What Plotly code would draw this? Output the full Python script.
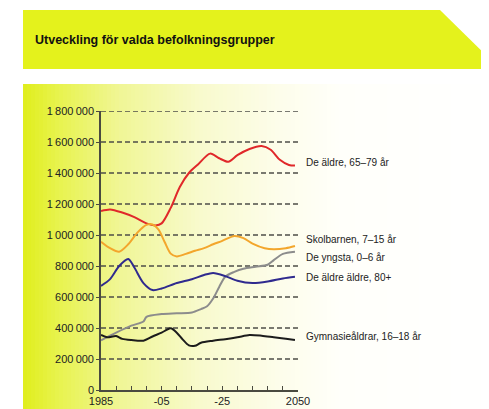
import plotly.graph_objects as go

# ---------------- data ----------------
title_text = "Utveckling för valda befolkningsgrupper"

years_aldre = [1985, 1988, 1992, 1996, 2000, 2003, 2005, 2008, 2011, 2014, 2017, 2021, 2024, 2027, 2030, 2034, 2038, 2041, 2044, 2047, 2049]
vals_aldre = [1155000, 1165000, 1145000, 1115000, 1075000, 1062000, 1075000, 1175000, 1310000, 1400000, 1455000, 1525000, 1495000, 1473000, 1515000, 1555000, 1574000, 1550000, 1485000, 1452000, 1448000]

years_skol = [1985, 1988, 1991, 1994, 1997, 2000, 2002, 2004, 2006, 2008, 2010, 2013, 2016, 2019, 2022, 2025, 2029, 2032, 2035, 2039, 2042, 2046, 2049]
vals_skol = [957000, 915000, 892000, 940000, 1015000, 1065000, 1068000, 1035000, 955000, 880000, 862000, 878000, 898000, 915000, 940000, 962000, 994000, 980000, 945000, 915000, 908000, 915000, 929000]

years_yngsta = [1985, 1990, 1995, 1999, 2000, 2005, 2010, 2015, 2018, 2020, 2022, 2024, 2026, 2029, 2032, 2036, 2040, 2042, 2045, 2049]
vals_yngsta = [320000, 370000, 415000, 442000, 472000, 490000, 495000, 500000, 522000, 540000, 590000, 665000, 731000, 762000, 782000, 795000, 808000, 838000, 878000, 892000]

years_aldreald = [1985, 1988, 1991, 1994, 1996, 1999, 2002, 2005, 2010, 2015, 2019, 2022, 2026, 2030, 2035, 2040, 2045, 2049]
vals_aldreald = [671000, 715000, 800000, 845000, 790000, 690000, 645000, 655000, 690000, 715000, 742000, 755000, 735000, 705000, 690000, 700000, 720000, 731000]

years_gymn = [1985, 1987, 1990, 1992, 1995, 1999, 2002, 2005, 2008, 2010, 2012, 2014, 2016, 2018, 2022, 2026, 2030, 2034, 2038, 2042, 2046, 2049]
vals_gymn = [355000, 340000, 348000, 330000, 322000, 318000, 345000, 370000, 398000, 370000, 325000, 288000, 285000, 305000, 318000, 328000, 340000, 355000, 350000, 340000, 330000, 323000]

series_names = ["De äldre, 65–79 år", "Skolbarnen, 7–15 år", "De yngsta, 0–6 år", "De äldre äldre, 80+", "Gymnasieåldrar, 16–18 år"]
series_colors = ["#e0282a", "#f3a62c", "#8c8c8c", "#2f2a8e", "#1c1c1c"]
label_y = [1465000, 974000, 858000, 729000, 342000]

y_tickvals = [0, 200000, 400000, 600000, 800000, 1000000, 1200000, 1400000, 1600000, 1800000]
y_ticktext = ["0", "200\u2009000", "400\u2009000", "600\u2009000", "800\u2009000", "1\u2009000\u2009000",
              "1\u2009200\u2009000", "1\u2009400\u2009000", "1\u2009600\u2009000", "1\u2009800\u2009000"]
x_tickvals = [1985, 2005, 2025, 2050]
x_ticktext = ["1985", "-05", "-25", "2050"]

# ---------------- layout helpers ----------------
W, H = 489, 409
OFF = 8  # page body margin of the browser
L, R, T, B = 101 - OFF, 298 - OFF, 111 - OFF, 390 - OFF


def px(x):
    return (x - OFF - L) / (R - L)


def py(y):
    return (B - (y - OFF)) / (B - T)


FONT = "Liberation Sans, Arial, sans-serif"

fig = go.Figure()

xs = [years_aldre, years_skol, years_yngsta, years_aldreald, years_gymn]
ys = [vals_aldre, vals_skol, vals_yngsta, vals_aldreald, vals_gymn]
for xv, yv, name, col in zip(xs, ys, series_names, series_colors):
    fig.add_trace(go.Scatter(x=xv, y=yv, mode="lines", name=name,
                             line=dict(color=col, width=2, shape="spline", smoothing=0.8),
                             hoverinfo="skip", showlegend=False))

shapes = []
# background gradient panel (strips)
stops = [(23, (224, 238, 28)), (60, (232, 243, 80)), (120, (240, 246, 150)), (200, (248, 250, 205)),
         (280, (253, 253, 235)), (340, (255, 255, 250)), (497, (255, 255, 255))]


def col_at(x):
    for (x0, c0), (x1, c1) in zip(stops[:-1], stops[1:]):
        if x0 <= x <= x1:
            t = (x - x0) / (x1 - x0)
            return "rgb(%d,%d,%d)" % tuple(round(a + (b - a) * t) for a, b in zip(c0, c1))
    return "rgb(255,255,255)"


step = 4
x = 23
while x < 497:
    shapes.append(dict(type="rect", xref="paper", yref="paper", x0=px(x), x1=px(min(x + step + 0.5, 497)),
                       y0=py(420), y1=py(84), fillcolor=col_at(x + step / 2), line=dict(width=0), layer="below"))
    x += step

# title band
shapes.append(dict(type="path", xref="paper", yref="paper",
                   path="M %f %f L %f %f L %f %f L %f %f L %f %f Z" % (
                       px(23), py(10), px(440), py(10), px(497), py(66), px(497), py(69), px(23), py(69)),
                   fillcolor="rgb(228,242,28)", line=dict(width=0), layer="below"))

# dashed gridlines
for v in y_tickvals[1:]:
    shapes.append(dict(type="line", xref="paper", yref="y", x0=0, x1=1, y0=v, y1=v,
                       line=dict(color="#4d4d48", width=1.3, dash="5px,3px"), layer="below"))

annotations = [dict(text="<b>" + title_text + "</b>", xref="paper", yref="paper", x=px(33), y=py(40),
                    xanchor="left", yanchor="middle", showarrow=False,
                    font=dict(family=FONT, size=12.5, color="#111111"))]
for name, ly in zip(series_names, label_y):
    annotations.append(dict(text=name, xref="paper", yref="y", x=px(304), y=ly, xanchor="left",
                            yanchor="middle", showarrow=False, font=dict(family=FONT, size=10, color="#222222")))

fig.update_layout(
    width=W, height=H,
    margin=dict(l=L, r=W - R, t=T, b=H - B, pad=0, autoexpand=False),
    paper_bgcolor="white", plot_bgcolor="rgba(0,0,0,0)",
    shapes=shapes, annotations=annotations,
    font=dict(family=FONT, size=11, color="#222222"),
    xaxis=dict(range=[1985, 2050], tickmode="array", tickvals=x_tickvals, ticktext=x_ticktext,
               showgrid=False, zeroline=False, showline=True, linecolor="#4a4a40", linewidth=1.6,
               ticks="inside", ticklen=4, tickcolor="#4a4a40", automargin=False,
               minor=dict(dtick=5, tick0=1985, ticks="inside", ticklen=4, tickcolor="#4a4a40", showgrid=False),
               tickfont=dict(size=11, color="#222222"), fixedrange=True),
    yaxis=dict(range=[0, 1800000], tickmode="array", tickvals=y_tickvals, ticktext=y_ticktext,
               showgrid=False, zeroline=False, showline=True, linecolor="#4a4a40", linewidth=1.6,
               ticks="outside", ticklen=3, tickcolor="#4a4a40", automargin=False,
               tickfont=dict(size=11, color="#222222"), fixedrange=True),
)

fig.write_html("out.html")
